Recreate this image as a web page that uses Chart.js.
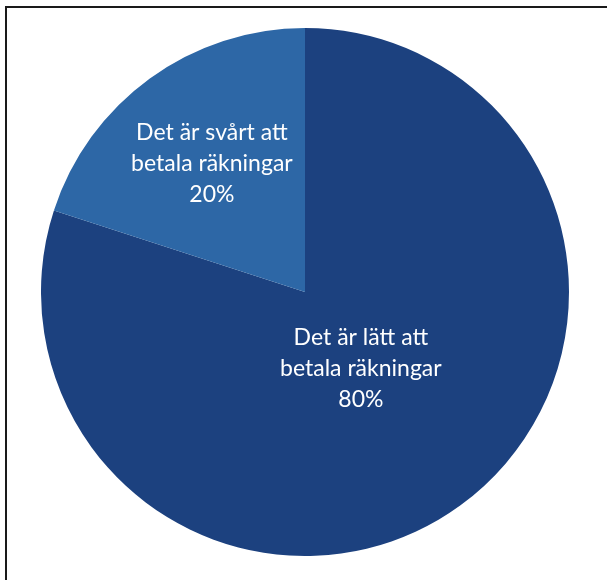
<!DOCTYPE html>
<html>
<head>
<meta charset="utf-8">
<script src="https://cdn.jsdelivr.net/npm/chart.js@4.4.1/dist/chart.umd.min.js"></script>
<style>
html,body{margin:0;padding:0;background:#fff;width:607px;height:580px;overflow:hidden}
#frame{position:absolute;left:5px;top:6px;width:610px;height:590px;border-top:2px solid #1a1a1a;border-left:2px solid #1a1a1a}
#box{position:absolute;left:41px;top:28px;width:528px;height:528px}
</style>
</head>
<body>
<div id="frame"></div>
<div id="box"><canvas id="PieHTML"></canvas></div>
<script>
// data
const LABELS=[["Det är lätt att","betala räkningar"],["Det är svårt att","betala räkningar"]]
const VALUES=[80,20]
const COLOURS=['#1c417f','#2d67a6']
// how far out from the centre each label sits (fraction of radius)
const LABELPOS=[0.36,0.60]

const sliceLabels={
 id:'sliceLabels',
 afterDatasetsDraw(chart){
  const ctx=chart.ctx
  const meta=chart.getDatasetMeta(0)
  const total=VALUES.reduce((a,b)=>a+b,0)
  ctx.save()
  ctx.fillStyle='#ffffff'
  ctx.font='23px Lato, "Open Sans", sans-serif'
  ctx.textAlign='center'
  ctx.textBaseline='middle'
  meta.data.forEach((arc,i)=>{
   const p=arc.getProps(['x','y','startAngle','endAngle','outerRadius'],true)
   const mid=(p.startAngle+p.endAngle)/2
   const r=p.outerRadius*LABELPOS[i]
   const cx=p.x+Math.cos(mid)*r
   const cy=p.y+Math.sin(mid)*r
   const lines=[...LABELS[i],Math.round(VALUES[i]/total*100)+'%']
   lines.forEach((t,j)=>ctx.fillText(t,cx,cy+(j-1)*31))
  })
  ctx.restore()
 }
}

let Chart1
function LoadC1(){
 Chart1=new Chart(document.getElementById('PieHTML'),{
  type:'pie',
  data:{
   labels:LABELS.map(l=>l.join(' ')),
   datasets:[{data:VALUES,backgroundColor:COLOURS,borderWidth:0}]
  },
  options:{
   animation:false,
   responsive:true,
   maintainAspectRatio:false,
   layout:{padding:0},
   plugins:{legend:{display:false},tooltip:{enabled:false}}
  },
  plugins:[sliceLabels]
 })
}
LoadC1()
</script>
</body>
</html>
